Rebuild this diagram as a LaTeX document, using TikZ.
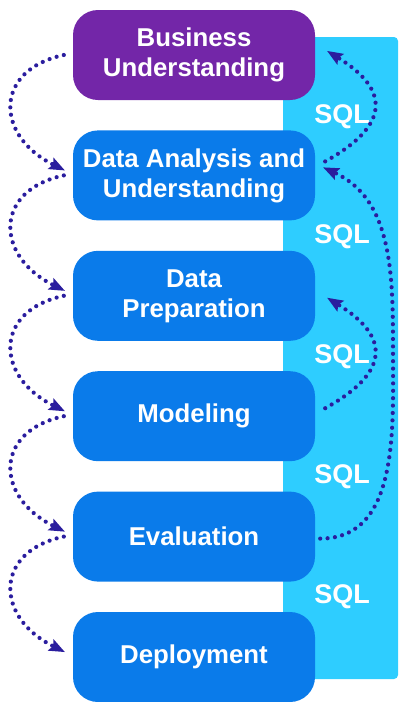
\documentclass[tikz,border=0pt]{standalone}
\usepackage{fontspec}
\setmainfont{Liberation Sans}
\usetikzlibrary{arrows.meta,positioning}
\definecolor{bupurple}{HTML}{7326A8}
\definecolor{phaseblue}{HTML}{0A7BEA}
\definecolor{sqlcyan}{HTML}{2ECDFF}
\definecolor{flowink}{HTML}{2A1D9E}

\begin{document}
\begin{tikzpicture}[x=1pt,y=-1pt,
    phase/.style={rectangle,rounded corners=25pt,fill=phaseblue,text=white,
      minimum width=242pt,minimum height=90pt,align=center,
      font=\fontsize{25.8}{30}\selectfont\bfseries},
    sql/.style={text=white,font=\fontsize{27}{30}\selectfont\bfseries},
    flow/.style={draw=flowink,line width=4.2pt,line cap=round,
      dash pattern=on 0pt off 7.4pt,
      -{Stealth[length=16pt,width=13pt,inset=3pt,line width=0pt]}}]
    \useasboundingbox (0,0) rectangle (399,702);
    \fill[sqlcyan,rounded corners=4pt] (283,37) rectangle (398,679);

    \node[phase,fill=bupurple] (bu) at (194,55) {Business\\Understanding};
    \node[phase,below=30pt of bu] (da) {Data Analysis and\\Understanding};
    \node[phase,below=30pt of da] (dp) {Data\\Preparation};
    \node[phase,below=30pt of dp] (mo) {Modeling};
    \node[phase,below=30pt of mo] (ev) {Evaluation};
    \node[phase,below=30pt of ev] (de) {Deployment};

    \foreach \y [count=\i] in {117,237,357,477,597}
        \node[sql] (sql\i) at (342,\y) {SQL};

    % forward steps on the left
    \foreach \a/\b in {bu/da,da/dp,dp/mo,mo/ev,ev/de}
        \draw[flow] ([xshift=-9pt]\a.west) .. controls +(-70,15) and +(-70,-35) .. ([xshift=-8pt,yshift=5pt]\b.west);

    % going back on the right
    \draw[flow] ([xshift=10pt,yshift=14pt]da.east) .. controls +(65,-36) and +(63,39) .. ([xshift=12pt,yshift=4pt]bu.east);
    \draw[flow] ([xshift=10pt,yshift=8pt]mo.east) .. controls +(65,-36) and +(63,39) .. ([xshift=12pt,yshift=-2pt]dp.east);
    \coordinate (sqlbend) at (393,350);
    \draw[flow] ([xshift=5pt,yshift=-2pt]ev.east) to[out=0,in=-90] (sqlbend) to[out=90,in=-25] ([xshift=8pt,yshift=8pt]da.east);
\end{tikzpicture}
\end{document}
